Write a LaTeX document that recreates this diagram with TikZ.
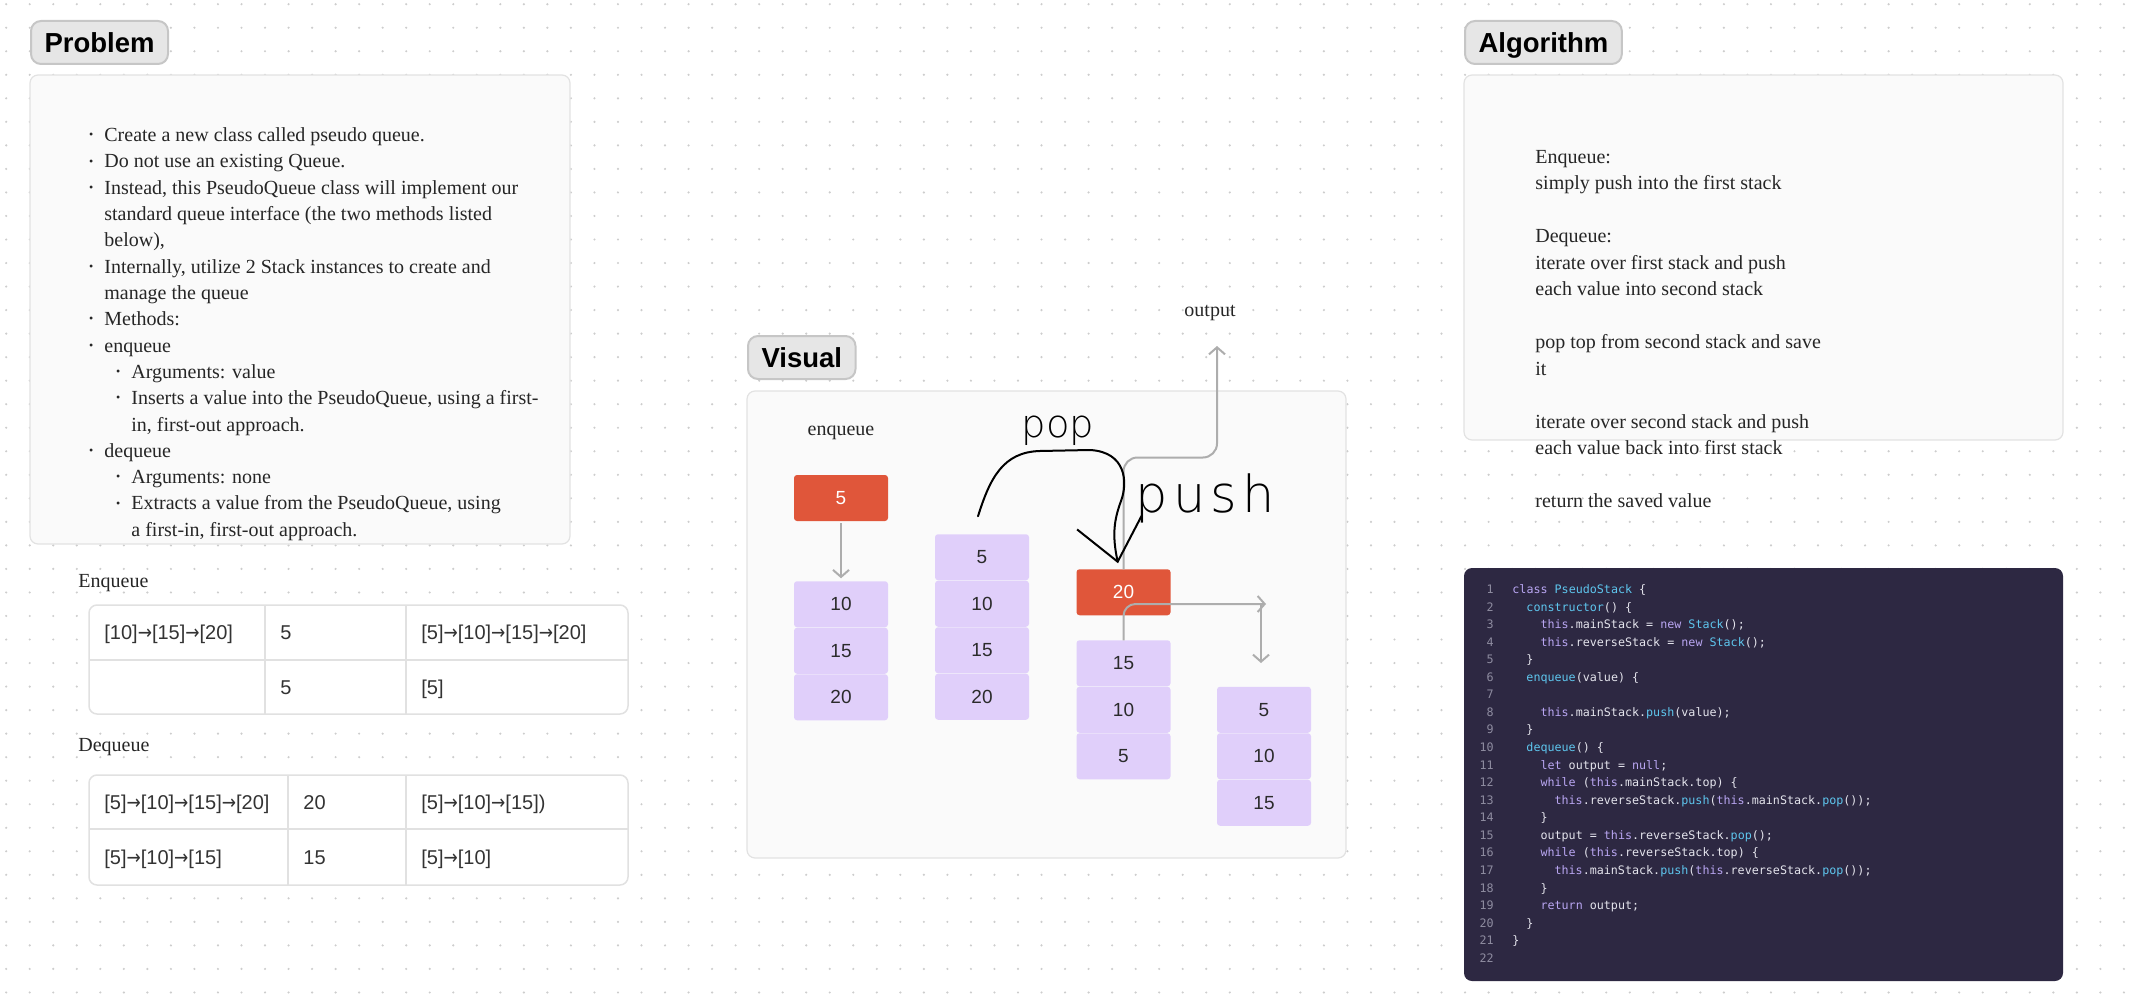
\documentclass[tikz,border=0pt]{standalone}
\usepackage{fontspec}
\setmainfont{Liberation Serif}
\newfontfamily\uifont{Liberation Sans}
\newfontfamily\arrowfont{DejaVu Sans}
\newfontfamily\codefont{DejaVu Sans Mono}
\newfontfamily\handfont{DejaVu Sans ExtraLight}
\usetikzlibrary{positioning,arrows.meta}
\definecolor{dotc}{HTML}{CDCDCD}
\definecolor{panelfill}{HTML}{FAFAFA}
\definecolor{panelline}{HTML}{E2E2E2}
\definecolor{tagfill}{HTML}{E6E6E6}
\definecolor{tagline}{HTML}{C6C6C6}
\definecolor{tblline}{HTML}{E1E1E1}
\definecolor{celltext}{HTML}{333333}
\definecolor{hotfill}{HTML}{E0563A}
\definecolor{stackfill}{HTML}{E0CFFA}
\definecolor{boxtext}{HTML}{2B2B2B}
\definecolor{arrowgrey}{HTML}{ADADAD}
\definecolor{codebg}{HTML}{2D2842}
\definecolor{codetext}{HTML}{E4E4EC}
\definecolor{codekw}{HTML}{B9A6F2}
\definecolor{codefn}{HTML}{5EC6EE}
\definecolor{lineno}{HTML}{8E8CA0}
\newcommand\kw[1]{\textcolor{codekw}{#1}}
\newcommand\fn[1]{\textcolor{codefn}{#1}}
\newcommand\bul{\llap{\raisebox{0.3ex}{\scalebox{0.6}{\textbullet}}\hspace{5.5pt}}}
\newcommand\nx{{\arrowfont\scalebox{0.85}[1]{→}}}
\begin{document}
\begin{tikzpicture}[x=0.5pt,y=-0.5pt,
  headtag/.style={draw=tagline, line width=1pt, fill=tagfill, rounded corners=5pt, anchor=north west,
    minimum height=21.5pt, inner xsep=6.75pt, text height=9.9pt, text depth=0pt,
    font=\uifont\bfseries\fontsize{13.75}{16}\selectfont},
  panel/.style={draw=panelline, line width=0.6pt, fill=panelfill, rounded corners=4pt},
  body/.style={anchor=base west, inner sep=0pt, font=\fontsize{10}{12}\selectfont, text=black!85},
  cell/.style={anchor=base west, inner sep=0pt, font=\uifont\fontsize{10}{12}\selectfont, text=celltext},
  tbl/.style={draw=tblline, line width=0.75pt, fill=white, rounded corners=4pt},
  stackitem/.style={minimum width=47pt, minimum height=23pt, inner sep=0pt, outer sep=0pt,
    rounded corners=1.5pt, font=\uifont\fontsize{9.5}{11}\selectfont},
  vbox/.style={stackitem, fill=stackfill, text=boxtext},
  hotbox/.style={stackitem, fill=hotfill, text=white},
  gline/.style={draw=arrowgrey, line width=1pt},
  garrow/.style={gline, -{Straight Barb[length=3.5pt,width=8pt]}},
  ink/.style={draw=black, line width=1pt, line cap=round, line join=round},
  hand/.style={anchor=base, inner sep=0pt, text=black},
  numline/.style={anchor=base east, inner sep=0pt, font=\codefont\fontsize{5.85}{7}\selectfont, text=lineno},
  codeline/.style={anchor=base west, inner sep=0pt, font=\codefont\fontsize{5.85}{7}\selectfont, text=codetext},
  node distance=0.25pt]
\useasboundingbox (0,0) rectangle (2142,1006);
\foreach \i in {0,...,91}
  \foreach \j in {0,...,42}
    \fill[dotc] (6.2+23.53*\i,4.2+23.53*\j) circle[radius=0.6pt];

\node[headtag] (probtag) at (30,20) {Problem};
\draw[panel] (30,75) rectangle (570,544);
\foreach \dx/\txt [count=\k from 0] in {
  0/{\bul Create a new class called pseudo queue.},
  0/{\bul Do not use an existing Queue.},
  0/{\bul Instead, this PseudoQueue class will implement our},
  0/{standard queue interface (the two methods listed},
  0/{below),},
  0/{\bul Internally, utilize 2 Stack instances to create and},
  0/{manage the queue},
  0/{\bul Methods:},
  0/{\bul enqueue},
  27/{\bul Arguments: value},
  27/{\bul Inserts a value into the PseudoQueue, using a first-},
  27/{in, first-out approach.},
  0/{\bul dequeue},
  27/{\bul Arguments: none},
  27/{\bul Extracts a value from the PseudoQueue, using},
  27/{a first-in, first-out approach.}}
  \node[body] (prob\k) at (104+\dx,141.5+26.32*\k) {\txt};

\node[body] (enqtitle) at (78,587) {Enqueue};
\draw[tbl] (89,605) rectangle (628,714);
\draw[draw=tblline, line width=0.75pt] (89,660) -- (628,660) (265,605) -- (265,714) (406,605) -- (406,714);
\node[cell] (e11) at (104,639) {[10]\nx[15]\nx[20]};
\node[cell] (e12) at (280,639) {5};
\node[cell] (e13) at (421,639) {[5]\nx[10]\nx[15]\nx[20]};
\node[cell] (e22) at (280,694) {5};
\node[cell] (e23) at (421,694) {[5]};

\node[body] (deqtitle) at (78,751) {Dequeue};
\draw[tbl] (89,775) rectangle (628,885);
\draw[draw=tblline, line width=0.75pt] (89,829) -- (628,829) (288,775) -- (288,885) (406,775) -- (406,885);
\node[cell] (d11) at (104,809) {[5]\nx[10]\nx[15]\nx[20]};
\node[cell] (d12) at (303,809) {20};
\node[cell] (d13) at (421,809) {[5]\nx[10]\nx[15])};
\node[cell] (d21) at (104,864) {[5]\nx[10]\nx[15]};
\node[cell] (d22) at (303,864) {15};
\node[cell] (d23) at (421,864) {[5]\nx[10]};

\node[headtag] (vistag) at (747,335) {Visual};
\draw[panel] (747,391) rectangle (1346,858);
\node[body, anchor=base] (enqlbl) at (841,435) {enqueue};
\node[body, anchor=base] (outlbl) at (1210,316) {output};

\node[hotbox] (red5) at (841,498) {5};
\node[vbox] (s1a) at (841,604.25) {10};
\node[vbox, below=of s1a] (s1b) {15};
\node[vbox, below=of s1b] (s1c) {20};

\node[vbox] (s2a) at (982,557.25) {5};
\node[vbox, below=of s2a] (s2b) {10};
\node[vbox, below=of s2b] (s2c) {15};
\node[vbox, below=of s2c] (s2d) {20};

\node[hotbox] (red20) at (1123.5,592.25) {20};
\node[vbox] (s3a) at (1123.5,663.25) {15};
\node[vbox, below=of s3a] (s3b) {10};
\node[vbox, below=of s3b] (s3c) {5};

\node[vbox] (s4a) at (1264,709.75) {5};
\node[vbox, below=of s4a] (s4b) {10};
\node[vbox, below=of s4b] (s4c) {15};

\draw[garrow, shorten <=1pt, shorten >=1.5pt] (red5) -- (s1a);
\coordinate (outknee) at (1217,457.5);
\coordinate (outtip) at (1217,346);
\draw[garrow, rounded corners=7pt] (red20.north) |- (outknee) -- (outtip);
\coordinate (pushtip) at (1266,604);
\coordinate (pushknee) at (1261,604);
\coordinate (s4tip) at (1261,663);
\draw[garrow, rounded corners=6pt] (s3a.north) |- (pushtip);
\draw[garrow] (pushknee) -- (s4tip);

\coordinate (popstart) at ([xshift=-2pt,yshift=9pt]s2a.north);
\coordinate (popend) at ([xshift=-2.75pt,yshift=3pt]red20.north);
\draw[ink, -{Straight Barb[length=20pt,width=33pt]}] (popstart)
  .. controls (990,478) and (1003,452) .. (1040,451) -- (1090,450)
  .. controls (1126,452) and (1128,482) .. (1121,501)
  .. controls (1114,520) and (1112,535) .. (popend);
\node[hand, font=\handfont\fontsize{19.25}{20}\selectfont] (poplbl) at (1058,437) {pop};
\node[hand, font=\handfont\fontsize{25.5}{27}\selectfont] (pushlbl) at (1205,512) {p\hspace{2.5pt}u\hspace{2.5pt}s\hspace{2.5pt}h};

\node[headtag] (algtag) at (1464,20) {Algorithm};
\draw[panel] (1464,75) rectangle (2063,440);
\foreach \i/\txt in {0/Enqueue:, 1/simply push into the first stack, 3/Dequeue:,
  4/iterate over first stack and push, 5/each value into second stack,
  7/pop top from second stack and save, 8/it,
  10/iterate over second stack and push, 11/each value back into first stack,
  13/return the saved value}
  \node[body] (algo\i) at (1535,163+26.5*\i) {\txt};

\fill[codebg, rounded corners=4pt] (1464,568) rectangle (2063,981);
\foreach \ind/\src [count=\k] in {
  0/{\kw{class} \fn{PseudoStack} \{},
  2/{\fn{constructor}() \{},
  4/{\kw{this}.mainStack = \kw{new} \fn{Stack}();},
  4/{\kw{this}.reverseStack = \kw{new} \fn{Stack}();},
  2/{\}},
  2/{\fn{enqueue}(value) \{},
  0/{},
  4/{\kw{this}.mainStack.\fn{push}(value);},
  2/{\}},
  2/{\fn{dequeue}() \{},
  4/{\kw{let} output = \kw{null};},
  4/{\kw{while} (\kw{this}.mainStack.top) \{},
  6/{\kw{this}.reverseStack.\fn{push}(\kw{this}.mainStack.\fn{pop}());},
  4/{\}},
  4/{output = \kw{this}.reverseStack.\fn{pop}();},
  4/{\kw{while} (\kw{this}.reverseStack.top) \{},
  6/{\kw{this}.mainStack.\fn{push}(\kw{this}.reverseStack.\fn{pop}());},
  4/{\}},
  4/{\kw{return} output;},
  2/{\}},
  0/{\}},
  0/{}} {
  \node[numline] (num\k) at (1494,575.94+17.56*\k) {\k};
  \node[codeline] (code\k) at (1512+7.03*\ind,575.94+17.56*\k) {\src};
}
\end{tikzpicture}
\end{document}
